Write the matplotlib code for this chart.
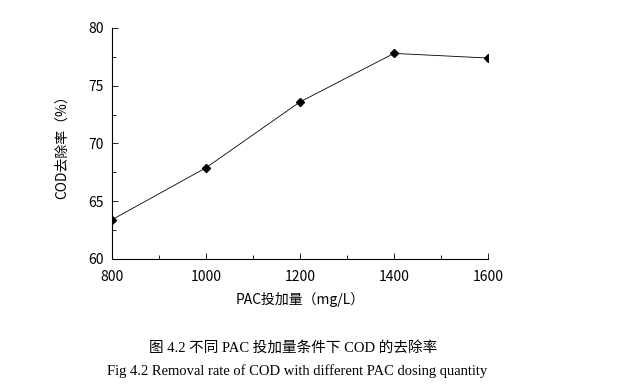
import matplotlib
matplotlib.use("Agg")
import matplotlib.pyplot as plt
from matplotlib.ticker import MultipleLocator

dose = [800, 1000, 1200, 1400, 1600]
removal = [63.4, 67.9, 73.6, 77.8, 77.4]

cjk = ["Noto Sans CJK SC", "DejaVu Sans"]
serif = ["Liberation Serif", "Noto Sans CJK SC"]

fig = plt.figure(figsize=(6.23, 3.85), dpi=100)
ax = fig.add_axes([0.1798, 0.3273, 0.6035, 0.6])
ax.plot(dose, removal, color="black", lw=0.6, marker="D", ms=4)
ax.set_xlim(800, 1600)
ax.set_ylim(60, 80)
ax.xaxis.set_major_locator(MultipleLocator(200))
ax.xaxis.set_minor_locator(MultipleLocator(100))
ax.yaxis.set_major_locator(MultipleLocator(5))
ax.yaxis.set_minor_locator(MultipleLocator(2.5))
ax.tick_params(which="both", direction="in", width=0.6, labelsize=10)
ax.tick_params(which="major", length=4)
ax.tick_params(which="minor", length=3)
ax.tick_params(axis="x", pad=8)
ax.tick_params(axis="y", pad=6)
for s in ("top", "right"):
    ax.spines[s].set_visible(False)
for s in ("left", "bottom"):
    ax.spines[s].set_linewidth(0.8)
for lab in ax.get_xticklabels() + ax.get_yticklabels():
    lab.set_family(cjk)

ax.set_xlabel("PAC投加量（mg/L）", family=cjk, fontsize=10, labelpad=6)
ax.set_ylabel("COD去除率（%）", family=cjk, fontsize=10, labelpad=14)

fig.text(0.471, 0.096, "图 4.2 不同 PAC 投加量条件下 COD 的去除率", family=serif,
         fontsize=10.5, ha="center", va="center")
fig.text(0.477, 0.036, "Fig 4.2 Removal rate of COD with different PAC dosing quantity",
         family=serif, fontsize=10.5, ha="center", va="center")

fig.savefig("out.png", dpi=100)
